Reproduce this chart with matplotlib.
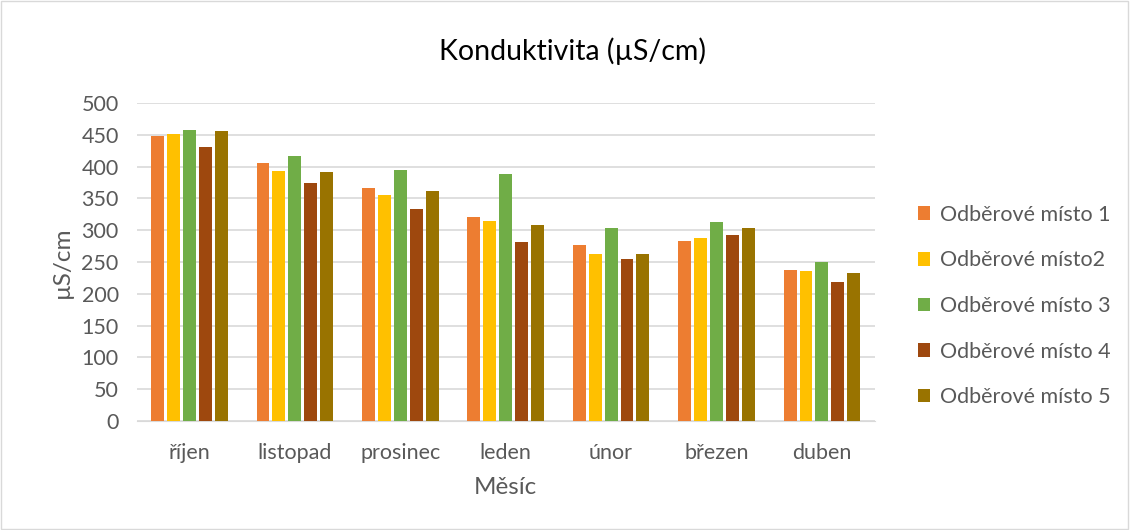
import numpy as np
import matplotlib.pyplot as plt
from matplotlib.patches import Rectangle

# data
months = ["říjen", "listopad", "prosinec", "leden", "únor", "březen", "duben"]
series_names = ["Odběrové místo 1", "Odběrové místo2", "Odběrové místo 3",
                "Odběrové místo 4", "Odběrové místo 5"]
misto1 = [448, 405, 367, 320, 276, 283, 238]
misto2 = [452, 393, 355, 314, 262, 287, 236]
misto3 = [457, 416, 394, 389, 304, 313, 250]
misto4 = [430, 374, 334, 281, 255, 292, 218]
misto5 = [456, 391, 361, 308, 263, 304, 232]
colors = ["#ED7D31", "#FFC000", "#70AD47", "#9E480E", "#997300"]

TEXT = "#595959"
plt.rcParams['font.family'] = ['Lato', 'DejaVu Sans']

fig = plt.figure(figsize=(11.3, 5.3), dpi=100)
ax = fig.add_axes([0.121, 0.2057, 0.653, 0.6])

x = np.arange(len(months))
pitch = 0.151
width = 0.123
for i, (vals, name, col) in enumerate(zip([misto1, misto2, misto3, misto4, misto5],
                                          series_names, colors)):
    ax.bar(x + (i - 2) * pitch, vals, width, color=col, label=name, zorder=3)

ax.set_xlim(-0.5, len(months) - 0.5)
ax.set_ylim(0, 500)
ax.set_yticks(np.arange(0, 501, 50))
ax.set_xticks(x)
ax.set_xticklabels(months)
ax.grid(axis='y', color='#D9D9D9', linewidth=1.2, zorder=0)
for s in ['top', 'right', 'left']:
    ax.spines[s].set_visible(False)
ax.spines['bottom'].set_color('#D9D9D9')
ax.tick_params(axis='both', length=0, labelsize=15.5, colors=TEXT)
ax.tick_params(axis='y', pad=13)
ax.tick_params(axis='x', pad=16)

fig.text(0.507, 1 - 51 / 530, "Konduktivita (µS/cm)", fontsize=20.5, color='black',
         ha='center', va='center')
ax.set_ylabel("µS/cm", fontsize=17.5, color=TEXT, labelpad=6)
ax.set_xlabel("Měsíc", fontsize=17.5, color=TEXT, labelpad=10)

leg = fig.legend(loc='center left', bbox_to_anchor=(0.812, 1 - 306 / 530), frameon=False,
                 fontsize=15.5, handlelength=0.6, handleheight=0.6,
                 handletextpad=0.45, labelspacing=1.19, borderpad=0, borderaxespad=0)
for t in leg.get_texts():
    t.set_color(TEXT)

fig.patches.append(Rectangle((0.001, 0.002), 0.997, 0.996, transform=fig.transFigure,
                             fill=False, edgecolor='#D9D9D9', linewidth=1))

plt.savefig("out.png", dpi=100)
